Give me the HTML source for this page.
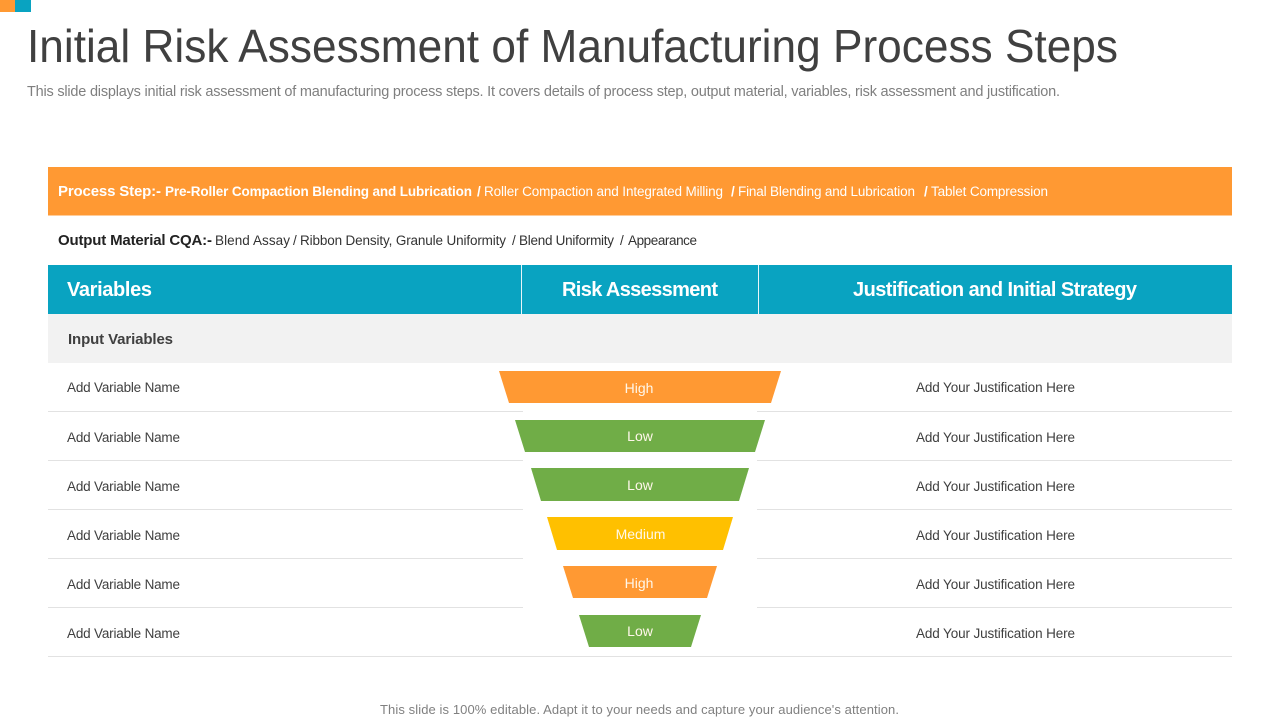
<!DOCTYPE html>
<html lang="en">
<head>
<meta charset="utf-8">
<title>Initial Risk Assessment of Manufacturing Process Steps</title>
<style>
html,body{margin:0;padding:0;background:#fff;width:1280px;height:720px;overflow:hidden}
svg{display:block}
text{font-family:"Liberation Sans",sans-serif}
.var,.just{font-size:13.5px;fill:#404040}
.risk{font-size:14px;fill:#fff7ea;text-anchor:middle}
.pw{font-size:13.5px;fill:#fff}
.pb{font-size:13.5px;fill:#fff;font-weight:700}
.om{font-size:13.5px;fill:#333}
.hd{font-size:20px;font-weight:700;fill:#fff}
.rule{stroke:#e2e2e2;stroke-width:1}
</style>
</head>
<body>
<svg width="1280" height="720" viewBox="0 0 1280 720" xmlns="http://www.w3.org/2000/svg">
  <rect x="0" y="0" width="15" height="12" fill="#ff9933"/>
  <rect x="15" y="0" width="16" height="12" fill="#09a3c1"/>

  <text x="27" y="62" font-size="46" fill="#404040" textLength="1091" lengthAdjust="spacingAndGlyphs">Initial Risk Assessment of Manufacturing Process Steps</text>
  <text x="27" y="96" font-size="14.5" fill="#7f7f7f" textLength="1033">This slide displays initial risk assessment of manufacturing process steps. It covers details of process step, output material, variables, risk assessment and justification.</text>

  <g>
    <rect x="48" y="167" width="1184" height="48.5" fill="#ff9933"/>
    <text x="58" y="196" font-size="15" font-weight="700" fill="#fff" textLength="103">Process Step:-</text>
    <text x="165" y="196" class="pb" textLength="307">Pre-Roller Compaction Blending and Lubrication</text>
    <text x="477" y="196" class="pb">/</text>
    <text x="484" y="196" class="pw" textLength="239">Roller Compaction  and Integrated  Milling</text>
    <text x="731" y="196" class="pb">/</text>
    <text x="738" y="196" class="pw" textLength="177">Final Blending and Lubrication</text>
    <text x="924" y="196" class="pb">/</text>
    <text x="931" y="196" class="pw" textLength="117">Tablet Compression</text>
  </g>

  <g>
    <text x="58" y="245" font-size="15" font-weight="700" fill="#222222" textLength="154">Output Material CQA:-</text>
    <text x="215" y="245" class="om" textLength="75">Blend Assay</text>
    <text x="293" y="245" class="om">/</text>
    <text x="300" y="245" class="om" textLength="206">Ribbon Density, Granule Uniformity</text>
    <text x="512" y="245" class="om">/</text>
    <text x="519" y="245" class="om" textLength="95">Blend Uniformity</text>
    <text x="620" y="245" class="om">/</text>
    <text x="628" y="245" class="om" textLength="69">Appearance</text>
  </g>

  <g>
    <rect x="48" y="265" width="1184" height="49" fill="#09a3c1"/>
    <line x1="521.5" y1="265" x2="521.5" y2="314" stroke="#e8f6f9" stroke-width="1"/>
    <line x1="758.5" y1="265" x2="758.5" y2="314" stroke="#e8f6f9" stroke-width="1"/>
    <text x="67" y="296" class="hd" textLength="85">Variables</text>
    <text x="562" y="296" class="hd" textLength="156">Risk Assessment</text>
    <text x="853" y="296" class="hd" textLength="284">Justification and Initial Strategy</text>
  </g>

  <g>
    <rect x="48" y="314" width="1184" height="49" fill="#f2f2f2"/>
    <text x="68" y="344" font-size="15" font-weight="700" fill="#404040" textLength="105">Input Variables</text>
  </g>

  <g>
    <line class="rule" x1="48" y1="411.5" x2="523" y2="411.5"/>
    <line class="rule" x1="757" y1="411.5" x2="1232" y2="411.5"/>
    <line class="rule" x1="48" y1="460.5" x2="523" y2="460.5"/>
    <line class="rule" x1="757" y1="460.5" x2="1232" y2="460.5"/>
    <line class="rule" x1="48" y1="509.5" x2="523" y2="509.5"/>
    <line class="rule" x1="757" y1="509.5" x2="1232" y2="509.5"/>
    <line class="rule" x1="48" y1="558.5" x2="523" y2="558.5"/>
    <line class="rule" x1="757" y1="558.5" x2="1232" y2="558.5"/>
    <line class="rule" x1="48" y1="607.5" x2="523" y2="607.5"/>
    <line class="rule" x1="757" y1="607.5" x2="1232" y2="607.5"/>
    <line class="rule" x1="48" y1="656.5" x2="1232" y2="656.5"/>
  </g>

  <g>
    <text x="67" y="392" class="var" textLength="113">Add Variable Name</text>
    <text x="67" y="442" class="var" textLength="113">Add Variable Name</text>
    <text x="67" y="491" class="var" textLength="113">Add Variable Name</text>
    <text x="67" y="540" class="var" textLength="113">Add Variable Name</text>
    <text x="67" y="589" class="var" textLength="113">Add Variable Name</text>
    <text x="67" y="638" class="var" textLength="113">Add Variable Name</text>
  </g>

  <g>
    <polygon points="499,371 781,371 771,403 509,403" fill="#ff9933"/>
    <text x="639" y="393" class="risk">High</text>
    <polygon points="515,420 765,420 755,452 525,452" fill="#70ad47"/>
    <text x="640" y="441" class="risk">Low</text>
    <polygon points="531,468 749,468 739,501 541,501" fill="#70ad47"/>
    <text x="640" y="490" class="risk">Low</text>
    <polygon points="547,517 733,517 723,550 557,550" fill="#ffc000"/>
    <text x="640.5" y="539" class="risk">Medium</text>
    <polygon points="563,566 717,566 707,598 573,598" fill="#ff9933"/>
    <text x="639" y="588" class="risk">High</text>
    <polygon points="579,615 701,615 691,647 589,647" fill="#70ad47"/>
    <text x="640" y="636" class="risk">Low</text>
  </g>

  <g>
    <text x="916" y="392" class="just" textLength="159">Add Your Justification Here</text>
    <text x="916" y="442" class="just" textLength="159">Add Your Justification Here</text>
    <text x="916" y="491" class="just" textLength="159">Add Your Justification Here</text>
    <text x="916" y="540" class="just" textLength="159">Add Your Justification Here</text>
    <text x="916" y="589" class="just" textLength="159">Add Your Justification Here</text>
    <text x="916" y="638" class="just" textLength="159">Add Your Justification Here</text>
  </g>

  <text x="380" y="714" font-size="13" fill="#808080" textLength="519">This slide is 100% editable. Adapt it to your needs and capture your audience's attention.</text>
</svg>
</body>
</html>
